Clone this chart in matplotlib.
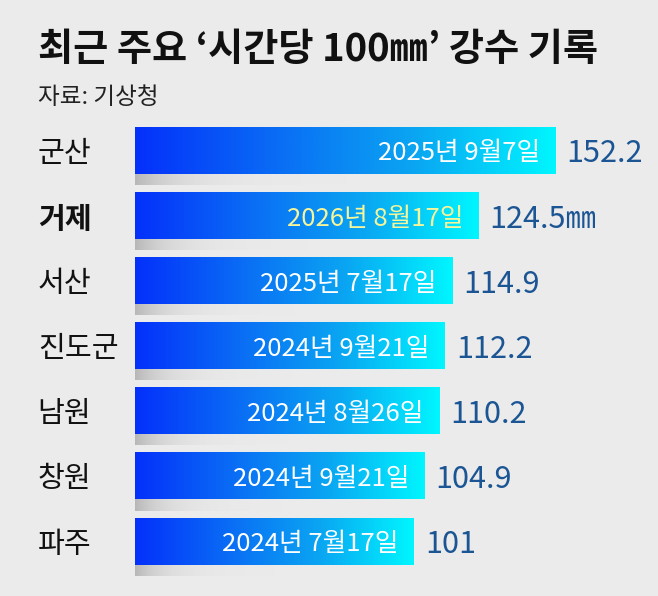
import numpy as np
import matplotlib
matplotlib.use("Agg")
import matplotlib.pyplot as plt
from matplotlib.colors import LinearSegmentedColormap, to_rgb

plt.rcParams["font.family"] = ["Noto Sans CJK KR", "DejaVu Sans"]

# ---- data ------------------------------------------------------------------
regions = ["군산", "거제", "서산", "진도군", "남원", "창원", "파주"]
rain_mm = [152.2, 124.5, 114.9, 112.2, 110.2, 104.9, 101]
dates = ["2025년 9월7일", "2026년 8월17일", "2025년 7월17일", "2024년 9월21일",
         "2024년 8월26일", "2024년 9월21일", "2024년 7월17일"]
value_labels = ["152.2", "124.5㎜", "114.9", "112.2", "110.2", "104.9", "101"]
highlight = "거제"

BG = "#ebebeb"
VAL_COL = "#1b5593"
grad = LinearSegmentedColormap.from_list(
    "bar", ["#0430fb", "#0a6cf5", "#0aa6f2", "#00f6ff"])

W, H = 658, 596
fig = plt.figure(figsize=(W / 100, H / 100), dpi=100, facecolor=BG)

# axes: x=0 at pixel 135, 2.76 px per mm; row i centred at 150.5 + 65.1*i px
x0, ppu = 135, 2.76
ax = fig.add_axes([x0 / W, 0, 1 - x0 / W, 1])
ax.set_facecolor(BG)
ax.set_xlim(0, (W - x0) / ppu)
ax.set_ylim((H - 150.5) / 65.1, -150.5 / 65.1)
ax.axis("off")

y = np.arange(len(regions))
bars = ax.barh(y, rain_mm, height=0.72, color="none")

g = np.linspace(0, 1, 256).reshape(1, -1)
shadow_rgba = np.zeros((1, 256, 4))
shadow_rgba[..., :3] = to_rgb("#959595")
shadow_rgba[..., 3] = 0.6 * np.exp(-np.linspace(0, 1, 256) * 9)

for i, (r, v) in enumerate(zip(bars, rain_mm)):
    bx, by, bw, bh = r.get_x(), r.get_y(), r.get_width(), r.get_height()
    # soft shadow under each bar
    ax.imshow(shadow_rgba, extent=(0, bw * 0.9, by + bh + 0.17, by + bh),
              aspect="auto", interpolation="bicubic", zorder=1)
    ax.imshow(g, extent=(bx, bx + bw, by + bh, by), cmap=grad,
              aspect="auto", interpolation="bicubic", zorder=2)

    hl = regions[i] == highlight
    ax.annotate(dates[i], (v, i), xytext=(-11, 0), textcoords="offset points",
                ha="right", va="center_baseline", fontsize=18.5,
                color="#f6f59a" if hl else "white", zorder=3)
    ax.annotate(value_labels[i], (v, i), xytext=(8, 0), textcoords="offset points",
                ha="left", va="center_baseline", fontsize=22, color=VAL_COL, zorder=3)
    ax.annotate(regions[i], (0, i), xytext=(-70, 0), textcoords="offset points",
                ha="left", va="center_baseline", fontsize=21,
                fontweight="bold" if hl else "normal", color="#111111", zorder=3,
                annotation_clip=False)

fig.text(38 / W, 1 - 50 / H, "최근 주요 ‘시간당 100㎜’ 강수 기록", fontsize=27.5,
         fontweight="bold", color="#111111", ha="left", va="center")
fig.text(38 / W, 1 - 97 / H, "자료: 기상청", fontsize=17, color="#222222",
         ha="left", va="center")

fig.savefig("out.png", dpi=100, facecolor=BG)
